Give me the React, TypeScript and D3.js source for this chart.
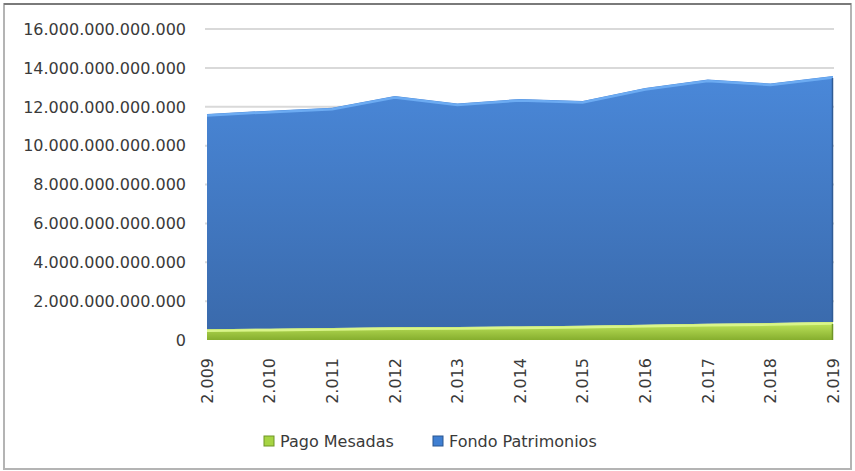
import React, { useEffect, useRef } from 'react';
import * as d3 from 'd3';

// Years on the category axis
const years = ['2.009', '2.010', '2.011', '2.012', '2.013', '2.014', '2.015', '2.016', '2.017', '2.018', '2.019'];

// Series values
const pagoMesadas = [
  0.55e12, 0.58e12, 0.62e12, 0.65e12, 0.67e12, 0.70e12, 0.73e12, 0.78e12, 0.83e12, 0.87e12, 0.93e12,
];
const fondoPatrimonios = [
  11.08e12, 11.22e12, 11.33e12, 11.9e12, 11.5e12, 11.7e12, 11.57e12, 12.18e12, 12.57e12, 12.33e12, 12.65e12,
];

const yTicks = [0, 2e12, 4e12, 6e12, 8e12, 10e12, 12e12, 14e12, 16e12];

const seriesNames = ['Pago Mesadas', 'Fondo Patrimonios'];

const App = () => {
  const svgRef = useRef<SVGSVGElement>(null);

  useEffect(() => {
    const svg = d3.select(svgRef.current);
    svg.selectAll('*').remove();

    const W = 855;
    const H = 471;
    const font = 'DejaVu Sans, sans-serif';

    const x = d3.scalePoint<string>().domain(years).range([207, 833]);
    const y = d3.scaleLinear().domain([0, 16e12]).range([340, 29]);

    const rows = years.map((yr, i) => ({ year: yr, pago: pagoMesadas[i], fondo: fondoPatrimonios[i] }));
    const stack = d3.stack<any>().keys(['pago', 'fondo'])(rows);

    const defs = svg.append('defs');
    const gradBlue = defs.append('linearGradient').attr('id', 'gBlue').attr('x1', 0).attr('y1', 0).attr('x2', 0).attr('y2', 1);
    gradBlue.append('stop').attr('offset', '0%').attr('stop-color', '#4a88d9');
    gradBlue.append('stop').attr('offset', '100%').attr('stop-color', '#3a6aac');
    const gradGreen = defs.append('linearGradient').attr('id', 'gGreen').attr('x1', 0).attr('y1', 0).attr('x2', 0).attr('y2', 1);
    gradGreen.append('stop').attr('offset', '0%').attr('stop-color', '#c2e85e');
    gradGreen.append('stop').attr('offset', '100%').attr('stop-color', '#86ae2e');

    // background + border
    svg.append('rect').attr('x', 0).attr('y', 0).attr('width', W).attr('height', H).attr('fill', '#ffffff');
    svg.append('rect')
      .attr('x', 4).attr('y', 4).attr('width', 847).attr('height', 465)
      .attr('fill', 'none').attr('stroke', '#b4b4b4').attr('stroke-width', 2);
    svg.append('line').attr('x1', 4).attr('x2', 851).attr('y1', 4).attr('y2', 4)
      .attr('stroke', '#7a7a7a').attr('stroke-width', 2);

    // gridlines
    svg.append('g')
      .selectAll('line')
      .data(yTicks.slice(1))
      .join('line')
      .attr('x1', 205).attr('x2', 834)
      .attr('y1', d => y(d)).attr('y2', d => y(d))
      .attr('stroke', '#d9d9d9').attr('stroke-width', 2);

    // y labels
    const fmt = (v: number) => d3.format(',.0f')(v).replace(/,/g, '.');
    svg.append('g')
      .selectAll('text')
      .data(yTicks)
      .join('text')
      .attr('x', 186)
      .attr('y', d => y(d))
      .attr('dy', '0.36em')
      .attr('text-anchor', 'end')
      .style('font-family', font)
      .style('font-size', '16px')
      .attr('fill', '#3a3a3a')
      .text(d => fmt(d));

    // areas
    const area = d3.area<any>()
      .x(d => x(d.data.year)!)
      .y0(d => y(d[0]))
      .y1(d => y(d[1]));
    const topLine = d3.line<any>()
      .x(d => x(d.data.year)!)
      .y(d => y(d[1]) + 1.5);

    const fills = ['url(#gGreen)', 'url(#gBlue)'];
    const highlights = ['#d9f58a', '#6cabf2'];
    const edges = ['#6f9526', '#2f5b95'];

    stack.slice().reverse().forEach((s, ri) => {
      const i = stack.length - 1 - ri;
      svg.append('path').datum(s).attr('d', area).attr('fill', fills[i]);
      svg.append('path').datum(s).attr('d', topLine)
        .attr('fill', 'none').attr('stroke', highlights[i]).attr('stroke-width', 2.5);
      // right edge shadow
      const last = s[s.length - 1];
      svg.append('line')
        .attr('x1', x(last.data.year)! - 0.5).attr('x2', x(last.data.year)! - 0.5)
        .attr('y1', y(last[1]) + 2).attr('y2', y(last[0]))
        .attr('stroke', edges[i]).attr('stroke-width', 1.5);
    });

    // x labels
    svg.append('g')
      .selectAll('text')
      .data(years)
      .join('text')
      .attr('transform', d => `translate(${x(d)},358) rotate(-90)`)
      .attr('dy', '0.36em')
      .attr('text-anchor', 'end')
      .style('font-family', font)
      .style('font-size', '16px')
      .attr('fill', '#3a3a3a')
      .text(d => d);

    // legend
    const legendColors = [['#a6d443', '#6f9526'], ['#3f7fd2', '#2a568f']];
    const legendX = [264, 433];
    const legend = svg.append('g');
    seriesNames.forEach((name, i) => {
      legend.append('rect')
        .attr('x', legendX[i]).attr('y', 436).attr('width', 10).attr('height', 10)
        .attr('fill', legendColors[i][0]).attr('stroke', legendColors[i][1]).attr('stroke-width', 1);
      legend.append('text')
        .attr('x', legendX[i] + 16).attr('y', 441)
        .attr('dy', '0.36em')
        .style('font-family', font)
        .style('font-size', '16px')
        .attr('fill', '#3a3a3a')
        .text(name);
    });
  }, []);

  return (
    <div style={{ position: 'absolute', left: 0, top: 0 }}>
      <svg ref={svgRef} width={855} height={471} style={{ display: 'block' }}></svg>
    </div>
  );
};

export default App;
